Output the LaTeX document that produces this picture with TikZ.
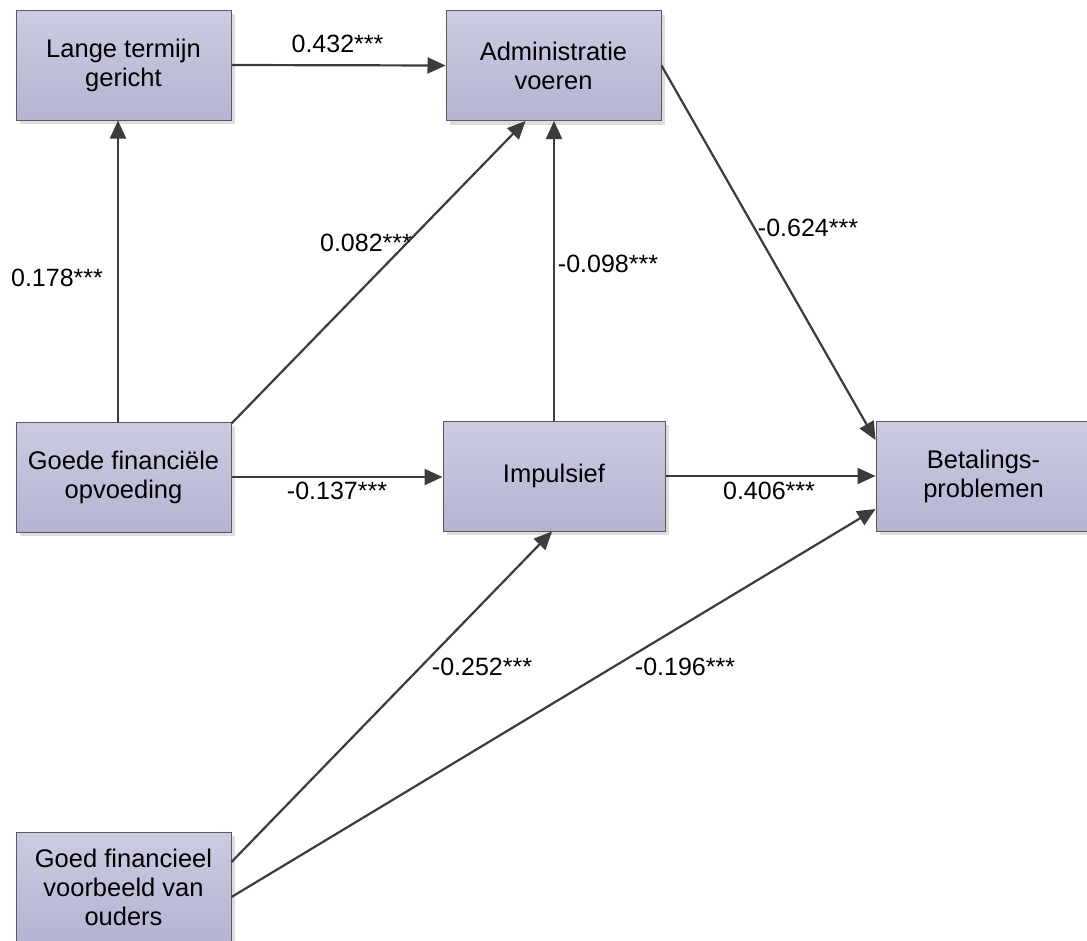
\documentclass[tikz,border=0pt]{standalone}
\usepackage{fontspec}
\setmainfont{Liberation Sans}
\usetikzlibrary{arrows.meta,shadows}
\definecolor{boxtop}{HTML}{CBCBE2}
\definecolor{boxbot}{HTML}{B4B4D2}
\definecolor{boxline}{HTML}{5A5A5A}
\definecolor{arrline}{HTML}{3C3C3C}
\definecolor{shadowc}{HTML}{DDDDDD}
\tikzset{
  varbox/.style={draw=boxline, line width=1pt, top color=boxtop, bottom color=boxbot,
    minimum width=215pt, minimum height=110pt, inner sep=0pt, align=center,
    font=\fontsize{25.5}{29}\selectfont,
    drop shadow={shadow xshift=4pt, shadow yshift=-4pt, opacity=1, fill=shadowc}},
  arr/.style={draw=arrline, line width=2.2pt, -{Triangle[length=18pt,width=16pt]}},
  coef/.style={font=\fontsize{25}{29}\selectfont, inner sep=0pt}
}
\begin{document}
\begin{tikzpicture}[x=1pt,y=-1pt]
\useasboundingbox (0,0) rectangle (1087,940);
\clip (0,0) rectangle (1087,940);
\fill[white] (0,0) rectangle (1087,940);

\node[varbox] (lange) at (123.5,65) {Lange termijn\\gericht};
\node[varbox] (admin) at (553.5,65.5) {Administratie\\voeren};
\node[varbox] (goede) at (123.5,477) {Goede financiële\\opvoeding};
\node[varbox, minimum width=222pt] (imp) at (554,476) {Impulsief};
\node[varbox] (bet) at (983.5,476) {Betalings-\\problemen};
\node[varbox] (voor) at (123.5,887) {Goed financieel\\voorbeeld van\\ouders};

\draw[arr] (lange.east) -- (admin.west);
\draw[arr] ([xshift=-5.5pt]goede.north) -- ([xshift=-5.5pt]lange.south);
\draw[arr] ([yshift=-2pt]goede.north east) -- ([xshift=-28pt]admin.south);
\draw[arr] (imp.north) -- (imp.north |- admin.south);
\draw[arr] (admin.east) -- ([yshift=36pt]bet.west);
\draw[arr] (goede.east) -- (goede.east -| imp.west);
\draw[arr] (imp.east) -- (bet.west);
\draw[arr] ([yshift=25pt]voor.east) -- ([xshift=-2pt]imp.south);
\draw[arr] ([yshift=-10pt]voor.east) -- ([yshift=-33pt]bet.west);

\node[coef] (c1) at (337.5,44) {0.432***};
\node[coef] (c2) at (57,278) {0.178***};
\node[coef] (c3) at (366,243) {0.082***};
\node[coef] (c4) at (608,264) {-0.098***};
\node[coef] (c5) at (808,228) {-0.624***};
\node[coef] (c6) at (337,491) {-0.137***};
\node[coef] (c7) at (769,491) {0.406***};
\node[coef] (c8) at (482,667) {-0.252***};
\node[coef] (c9) at (685,667) {-0.196***};
\end{tikzpicture}
\end{document}
